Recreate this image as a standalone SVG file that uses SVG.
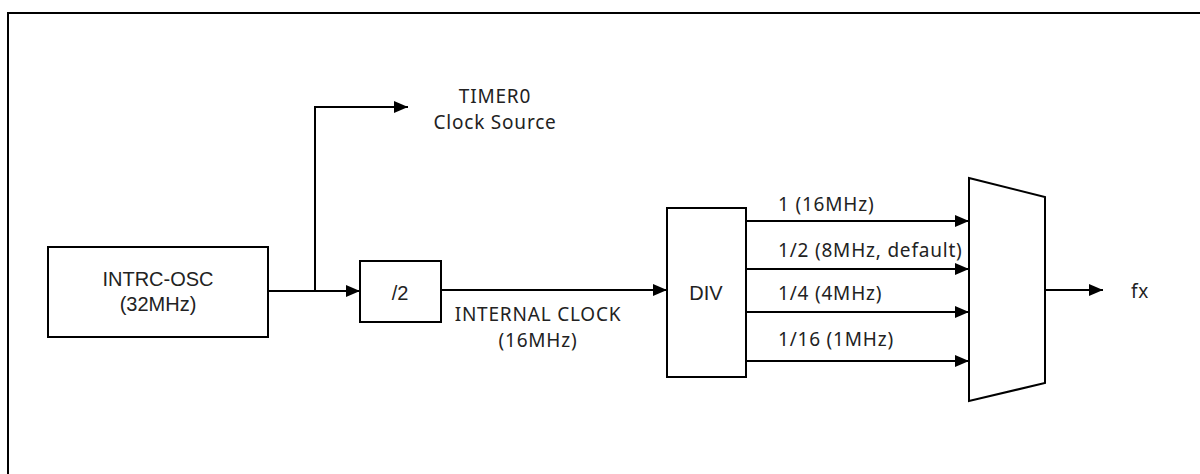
<svg xmlns="http://www.w3.org/2000/svg" width="1200" height="474" viewBox="0 0 1200 474">
<defs>
<marker id="arr" markerWidth="14" markerHeight="12" refX="14" refY="6" orient="auto" markerUnits="userSpaceOnUse">
<path d="M0,0 L14,6 L0,12 Z" fill="#000"/>
</marker>
<style>
.box{fill:#fff;stroke:#000;stroke-width:2}
.ln{fill:none;stroke:#000;stroke-width:2}
.a{font-family:"Liberation Sans",Arial,sans-serif;font-size:20px;fill:#222;text-anchor:middle}
.m{font-family:"Noto Sans","Open Sans",sans-serif;font-size:19px;letter-spacing:0.8px;fill:#222}
</style>
</defs>
<rect width="1200" height="474" fill="#fff"/>
<path class="ln" d="M8,474 V13 H1200"/>
<g id="connectors">
<path class="ln" d="M268,291 H360" marker-end="url(#arr)"/>
<path class="ln" d="M315,291 V107 H408" marker-end="url(#arr)"/>
<path class="ln" d="M441,290 H667" marker-end="url(#arr)"/>
<path class="ln" d="M746,221 H969" marker-end="url(#arr)"/>
<path class="ln" d="M746,269 H969" marker-end="url(#arr)"/>
<path class="ln" d="M746,312 H969" marker-end="url(#arr)"/>
<path class="ln" d="M746,361 H969" marker-end="url(#arr)"/>
<path class="ln" d="M1045,290 H1103" marker-end="url(#arr)"/>
</g>
<g id="osc">
<rect class="box" x="48" y="247" width="220" height="90"/>
<text class="a" x="158" y="286">INTRC-OSC</text>
<text class="a" x="158" y="311">(32MHz)</text>
</g>
<g id="div2">
<rect class="box" x="360" y="261" width="81" height="61"/>
<text class="a" x="400" y="300">/2</text>
</g>
<g id="div">
<rect class="box" x="667" y="208" width="79" height="169"/>
<text class="a" x="706" y="300">DIV</text>
</g>
<g id="mux">
<path class="box" d="M969,178 L1045,197 L1045,383 L969,401 Z"/>
</g>
<g id="labels">
<text class="m" x="495" y="103" text-anchor="middle">TIMER0</text>
<text class="m" x="495" y="129" text-anchor="middle">Clock Source</text>
<text class="m" x="538" y="321" text-anchor="middle">INTERNAL CLOCK</text>
<text class="m" x="538" y="347" text-anchor="middle">(16MHz)</text>
<text class="m" x="778" y="211">1 (16MHz)</text>
<text class="m" x="778" y="257">1/2 (8MHz, default)</text>
<text class="m" x="778" y="300">1/4 (4MHz)</text>
<text class="m" x="778" y="346">1/16 (1MHz)</text>
<text class="m" x="1131" y="298">fx</text>
</g>
</svg>
